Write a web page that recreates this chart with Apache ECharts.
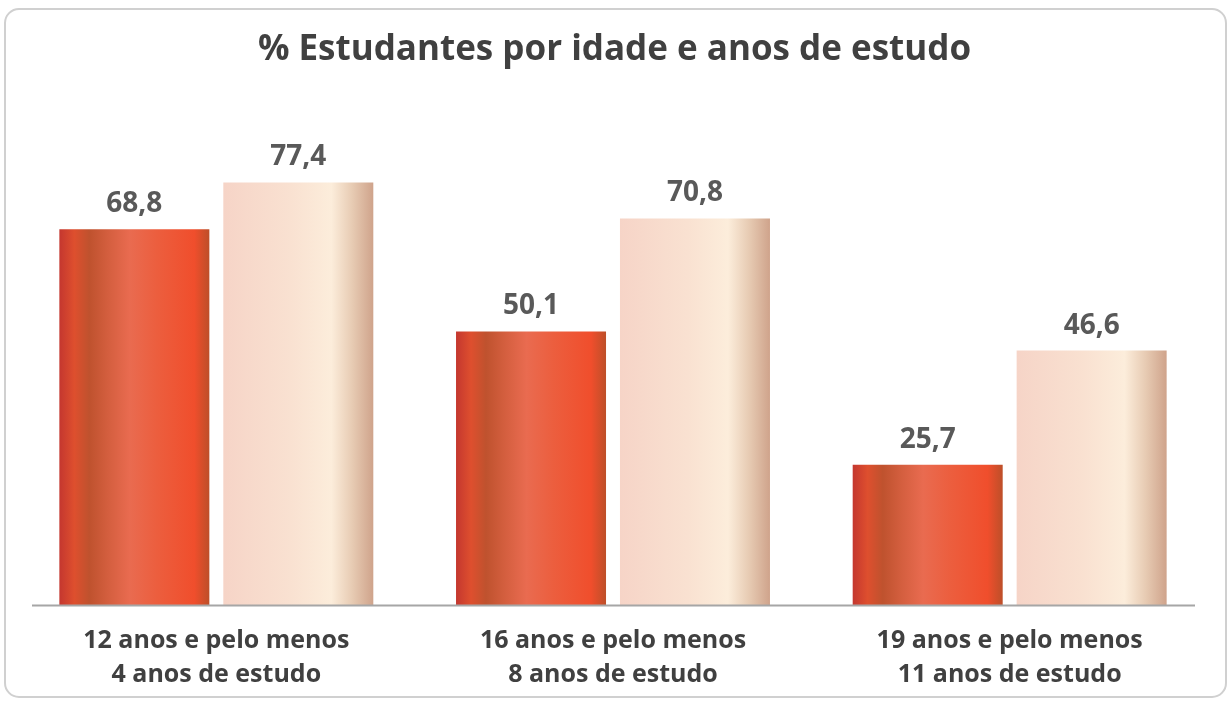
<!DOCTYPE html>
<html>
<head>
<meta charset="utf-8">
<script src="https://cdn.jsdelivr.net/npm/echarts@6/dist/echarts.min.js"></script>
<style>html,body{margin:0;padding:0;background:#fff}#c{width:1229px;height:702px}</style>
</head>
<body>
<div id="c"></div>
<script>
const titleText = '% Estudantes por idade e anos de estudo';
const categories = ['12 anos e pelo menos\n4 anos de estudo', '16 anos e pelo menos\n8 anos de estudo', '19 anos e pelo menos\n11 anos de estudo'];
const seriesA = [68.8, 50.1, 25.7];
const seriesB = [77.4, 70.8, 46.6];

const chart = echarts.init(document.getElementById('c'), null, {renderer: 'canvas'});
const FONT = '"Open Sans", sans-serif';
const redGrad = new echarts.graphic.LinearGradient(0, 0, 1, 0, [
  {offset: 0, color: '#C4372F'},
  {offset: 0.1, color: '#DE4F2E'},
  {offset: 0.2, color: '#BF522E'},
  {offset: 0.32, color: '#D35E3E'},
  {offset: 0.47, color: '#E96B50'},
  {offset: 0.65, color: '#EC5E3E'},
  {offset: 0.9, color: '#F04E2C'},
  {offset: 1, color: '#BD4F29'}
]);
const peachGrad = new echarts.graphic.LinearGradient(0, 0, 1, 0, [
  {offset: 0, color: '#F6D4C7'},
  {offset: 0.45, color: '#F9E1D1'},
  {offset: 0.72, color: '#FCEDDB'},
  {offset: 0.86, color: '#E7CBB3'},
  {offset: 1, color: '#CFA38B'}
]);
const labelFmt = p => String(p.value).replace('.', ',');
chart.setOption({
  animation: false,
  title: {
    text: titleText, left: 'center', top: 28,
    textStyle: {fontFamily: FONT, fontWeight: 'bold', fontSize: 35, color: '#404040'}
  },
  grid: {left: 18, right: 21, top: 59, bottom: 97},
  xAxis: {
    type: 'category', data: categories,
    axisLine: {show: false}, axisTick: {show: false},
    axisLabel: {fontFamily: FONT, fontWeight: 'bold', fontSize: 25, color: '#404040', lineHeight: 34, margin: 19}
  },
  yAxis: {type: 'value', min: 0, max: 100, show: false, splitLine: {show: false}},
  series: [
    {type: 'bar', data: seriesA, barWidth: 150, barGap: '9.3%', itemStyle: {color: redGrad},
     label: {show: true, position: 'top', distance: 11, formatter: labelFmt, fontFamily: FONT, fontWeight: 'bold', fontSize: 28, color: '#595959'}},
    {type: 'bar', data: seriesB, barWidth: 150, itemStyle: {color: peachGrad},
     label: {show: true, position: 'top', distance: 11, formatter: labelFmt, fontFamily: FONT, fontWeight: 'bold', fontSize: 28, color: '#595959'}}
  ],
  graphic: [
    {type: 'rect', shape: {x: 5, y: 9, width: 1221, height: 688, r: 14}, style: {fill: 'none', stroke: '#D0D0D0', lineWidth: 2}, z: -1},
    {type: 'line', shape: {x1: 32, y1: 605.5, x2: 1195, y2: 605.5}, style: {stroke: '#A6A6A6', lineWidth: 2}, z: 10}
  ]
});
</script>
</body>
</html>
